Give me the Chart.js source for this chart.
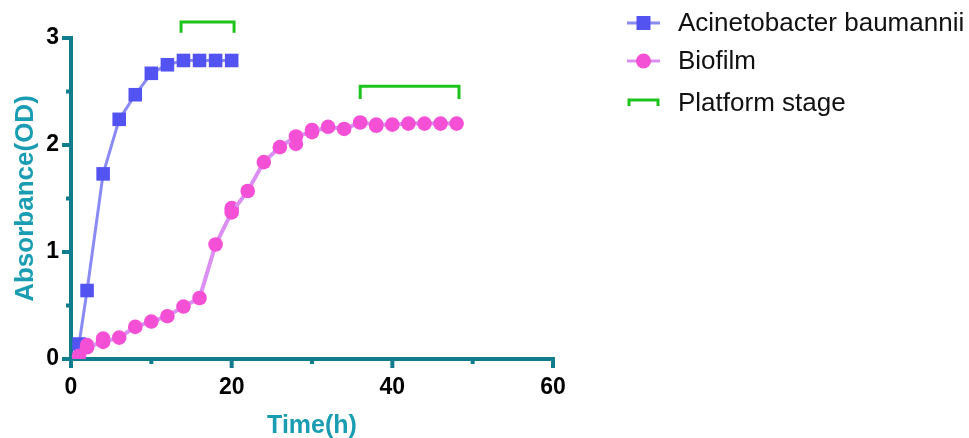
<!DOCTYPE html>
<html>
<head>
<meta charset="utf-8">
<script src="https://cdn.jsdelivr.net/npm/chart.js@4.4.1/dist/chart.umd.min.js"></script>
<style>
  html, body { margin: 0; padding: 0; background: #ffffff; }
  #wrap { width: 969px; height: 438px; position: relative; }
</style>
</head>
<body>
<div id="wrap"><canvas id="c" width="969" height="438"></canvas></div>
<script>
// ---- data ----
const seriesNames = ["Acinetobacter baumannii", "Biofilm", "Platform stage"];
const timeA = [1, 2, 4, 6, 8, 10, 12, 14, 16, 18, 20];
const odA   = [0.14, 0.64, 1.73, 2.24, 2.47, 2.67, 2.75, 2.79, 2.79, 2.79, 2.79];
const timeB = [1, 2, 4, 6, 8, 10, 12, 14, 16, 18, 20, 22, 24, 26, 28, 30, 32, 34, 36, 38, 40, 42, 44, 46, 48];
const odB   = [0.03, 0.11, 0.16, 0.20, 0.30, 0.35, 0.40, 0.49, 0.57, 1.07, 1.37, 1.57, 1.84, 1.98, 2.08, 2.12, 2.17, 2.15, 2.21, 2.19, 2.19, 2.20, 2.20, 2.20, 2.20];
// second replicate markers of the biofilm series that do not coincide with the first
const timeBrep = [2, 4, 20, 28, 30, 38];
const odBrep   = [0.13, 0.19, 1.41, 2.01, 2.14, 2.18];
// platform stage brackets
const bracketStart = [13.7, 36];
const bracketEnd   = [20.3, 48.3];
const bracketTop   = [3.15, 2.55];
const bracketFoot  = [3.05, 2.43];
// axes
const xTicksMajor = [0, 20, 40, 60];
const xTicksMinor = [10, 30, 50];
const yTicksMajor = [0, 1, 2, 3];
const yTicksMinor = [0.5, 1.5, 2.5];

// ---- styles ----
const AXIS = '#0f7d8e';
const TITLE = '#1a9db2';
const BLUE_LINE = '#8a8af4', BLUE_PT = '#5353f2';
const PINK_LINE = '#dc8ff2', PINK_PT = '#f450d6';
const GREEN = '#1cc41c';
const FONT = '"Liberation Sans", Arial, Helvetica, sans-serif';

const ptsA = timeA.map((t, i) => ({x: t, y: odA[i]}));
const ptsB = timeB.map((t, i) => ({x: t, y: odB[i]}));
const ptsBrep = timeBrep.map((t, i) => ({x: t, y: odBrep[i]}));
const bracketPts = [];
bracketStart.forEach((s, i) => {
  bracketPts.push({x: s, y: bracketFoot[i]}, {x: s, y: bracketTop[i]},
                  {x: bracketEnd[i], y: bracketTop[i]}, {x: bracketEnd[i], y: bracketFoot[i]});
  if (i < bracketStart.length - 1) bracketPts.push({x: null, y: null});
});

const axesPlugin = {
  id: 'axesPlugin',
  beforeDatasetsDraw(chart) {
    const {ctx, scales: {x, y}} = chart;
    const x0 = x.getPixelForValue(0), y0 = y.getPixelForValue(0);
    ctx.save();
    ctx.strokeStyle = AXIS; ctx.fillStyle = AXIS;
    ctx.lineWidth = 4; ctx.lineCap = 'butt';
    // y axis
    ctx.beginPath();
    ctx.moveTo(x0, y.getPixelForValue(3) - 2);
    ctx.lineTo(x0, y0 + 2);
    ctx.stroke();
    // x axis
    ctx.beginPath();
    ctx.moveTo(x0 - 9, y0);
    ctx.lineTo(x.getPixelForValue(60) + 2, y0);
    ctx.stroke();
    // y ticks
    yTicksMajor.forEach(v => { const p = y.getPixelForValue(v);
      ctx.beginPath(); ctx.moveTo(x0 - 9, p); ctx.lineTo(x0, p); ctx.stroke(); });
    yTicksMinor.forEach(v => { const p = y.getPixelForValue(v);
      ctx.beginPath(); ctx.moveTo(x0 - 5, p); ctx.lineTo(x0, p); ctx.stroke(); });
    // x ticks
    xTicksMajor.forEach(v => { const p = x.getPixelForValue(v);
      ctx.beginPath(); ctx.moveTo(p, y0); ctx.lineTo(p, y0 + 9); ctx.stroke(); });
    xTicksMinor.forEach(v => { const p = x.getPixelForValue(v);
      ctx.beginPath(); ctx.moveTo(p, y0); ctx.lineTo(p, y0 + 5); ctx.stroke(); });
    ctx.restore();
  }
};

const legendPlugin = {
  id: 'legendPlugin',
  afterDraw(chart) {
    const ctx = chart.ctx;
    const lx0 = 627, lx1 = 660, cx = 643.5, tx = 678;
    const rows = [23, 61, 103];
    ctx.save();
    // Acinetobacter
    ctx.strokeStyle = BLUE_LINE; ctx.lineWidth = 3;
    ctx.beginPath(); ctx.moveTo(lx0, rows[0]); ctx.lineTo(lx1, rows[0]); ctx.stroke();
    ctx.fillStyle = BLUE_PT; ctx.fillRect(cx - 7, rows[0] - 7, 14, 14);
    // Biofilm
    ctx.strokeStyle = PINK_LINE;
    ctx.beginPath(); ctx.moveTo(lx0, rows[1]); ctx.lineTo(lx1, rows[1]); ctx.stroke();
    ctx.fillStyle = PINK_PT; ctx.beginPath(); ctx.arc(cx, rows[1], 7.5, 0, Math.PI * 2); ctx.fill();
    // Platform stage bracket
    ctx.strokeStyle = GREEN; ctx.lineWidth = 3;
    ctx.beginPath();
    ctx.moveTo(lx0 + 2, rows[2] + 3); ctx.lineTo(lx0 + 2, rows[2] - 3);
    ctx.lineTo(lx1 - 2, rows[2] - 3); ctx.lineTo(lx1 - 2, rows[2] + 3);
    ctx.stroke();
    // texts
    ctx.fillStyle = '#111111';
    ctx.font = '26px ' + FONT;
    ctx.textBaseline = 'middle'; ctx.textAlign = 'left';
    seriesNames.forEach((n, i) => ctx.fillText(n, tx, rows[i] + 1));
    ctx.restore();
  }
};

new Chart(document.getElementById('c'), {
  type: 'scatter',
  data: {
    datasets: [
      { label: seriesNames[0], data: ptsA, showLine: true, order: 2,
        borderColor: BLUE_LINE, borderWidth: 3, pointStyle: 'rect', pointRadius: 9.6,
        pointBackgroundColor: BLUE_PT, pointBorderColor: BLUE_PT, pointBorderWidth: 0,
        pointHoverRadius: 9.6 },
      { label: seriesNames[1], data: ptsB, showLine: true, order: 1,
        borderColor: PINK_LINE, borderWidth: 4, pointStyle: 'circle', pointRadius: 7.3,
        pointBackgroundColor: PINK_PT, pointBorderColor: PINK_PT, pointBorderWidth: 0,
        pointHoverRadius: 7.3 },
      { label: 'rep', data: ptsBrep, showLine: false, order: 1,
        pointStyle: 'circle', pointRadius: 7.3,
        pointBackgroundColor: PINK_PT, pointBorderColor: PINK_PT, pointBorderWidth: 0 },
      { label: seriesNames[2], data: bracketPts, showLine: true, spanGaps: false, clip: false, order: 0,
        borderColor: GREEN, borderWidth: 3, pointRadius: 0, borderJoinStyle: 'miter' }
    ]
  },
  options: {
    responsive: false, animation: false, devicePixelRatio: 1,
    layout: { padding: { top: 38, right: 416, left: 0, bottom: 0 } },
    plugins: { legend: { display: false }, tooltip: { enabled: false } },
    scales: {
      x: {
        type: 'linear', min: 0, max: 60,
        grid: { display: false, drawTicks: false }, border: { display: false },
        afterBuildTicks(s) { s.ticks = xTicksMajor.map(v => ({value: v})); },
        afterFit(s) { s.height = 79; },
        ticks: { color: '#000', font: { family: FONT, size: 23, weight: 'bold' }, padding: 15, maxRotation: 0 },
        title: { display: true, text: 'Time(h)', color: TITLE,
                 font: { family: FONT, size: 25, weight: 'bold' }, padding: { top: 0, bottom: -3 } }
      },
      y: {
        type: 'linear', min: 0, max: 3,
        grid: { display: false, drawTicks: false }, border: { display: false },
        afterBuildTicks(s) { s.ticks = yTicksMajor.map(v => ({value: v})); },
        afterFit(s) { s.width = 71; },
        ticks: { color: '#000', font: { family: FONT, size: 23, weight: 'bold' }, padding: 12 },
        title: { display: true, text: 'Absorbance(OD)', color: TITLE,
                 font: { family: FONT, size: 26, weight: 'bold' }, padding: { top: 10, bottom: 0 } }
      }
    }
  },
  plugins: [axesPlugin, legendPlugin]
});
</script>
</body>
</html>
